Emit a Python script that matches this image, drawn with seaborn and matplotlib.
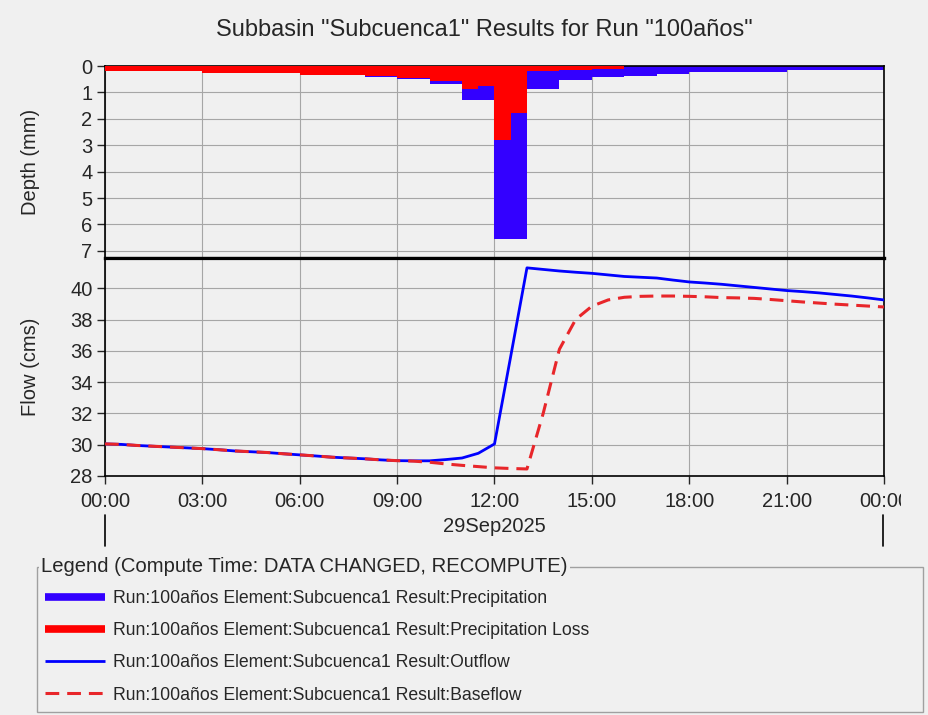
import numpy as np
import pandas as pd
import matplotlib
matplotlib.use('Agg')
import matplotlib.pyplot as plt
import seaborn as sns
from matplotlib.lines import Line2D
from matplotlib.patches import Rectangle
from matplotlib.transforms import Bbox, TransformedBbox

# hyetograph: 30 min blocks, start hour of each block
block_start = [h / 2 for h in range(48)]
precipitation = [0.19, 0.19, 0.19, 0.19, 0.19, 0.19,
                 0.25, 0.25, 0.25, 0.25, 0.25, 0.25,
                 0.33, 0.33, 0.33, 0.33, 0.40, 0.40,
                 0.51, 0.51, 0.67, 0.67, 1.29, 1.29,
                 6.56, 6.56, 0.87, 0.87, 0.54, 0.54,
                 0.42, 0.42, 0.37, 0.37, 0.30, 0.30,
                 0.22, 0.22, 0.22, 0.22, 0.22, 0.22,
                 0.15, 0.15, 0.15, 0.15, 0.15, 0.15]
precip_loss = [0.19, 0.19, 0.19, 0.19, 0.19, 0.19,
               0.25, 0.25, 0.25, 0.25, 0.25, 0.25,
               0.33, 0.33, 0.33, 0.33, 0.39, 0.39,
               0.45, 0.45, 0.58, 0.58, 0.87, 0.77,
               2.82, 1.78, 0.20, 0.20, 0.15, 0.15,
               0.12, 0.12, 0.0, 0.0, 0.0, 0.0,
               0.0, 0.0, 0.0, 0.0, 0.0, 0.0,
               0.0, 0.0, 0.0, 0.0, 0.0, 0.0]

# hydrograph, every 30 min from 00:00 to 00:00 next day
flow_time = [h / 2 for h in range(49)]
outflow = [30.05, 30.02, 29.95, 29.90, 29.85, 29.80, 29.75, 29.68, 29.60, 29.55,
           29.50, 29.42, 29.35, 29.28, 29.20, 29.15, 29.10, 29.03, 28.98, 28.97,
           28.97, 29.05, 29.15, 29.45, 30.05, 35.65, 41.30, 41.20, 41.10, 41.02,
           40.95, 40.85, 40.75, 40.70, 40.65, 40.52, 40.40, 40.33, 40.25, 40.15,
           40.05, 39.95, 39.85, 39.78, 39.70, 39.60, 39.50, 39.38, 39.25]
baseflow = [30.05, 30.02, 29.95, 29.90, 29.85, 29.80, 29.75, 29.68, 29.60, 29.55,
            29.50, 29.42, 29.35, 29.28, 29.20, 29.15, 29.10, 29.03, 28.98, 28.95,
            28.88, 28.77, 28.68, 28.60, 28.52, 28.48, 28.45, 32.00, 36.10, 38.00,
            38.85, 39.25, 39.42, 39.48, 39.50, 39.50, 39.48, 39.45, 39.40, 39.38,
            39.35, 39.28, 39.20, 39.12, 39.05, 38.98, 38.92, 38.86, 38.80]

hour_ticks = [0, 3, 6, 9, 12, 15, 18, 21, 24]
hour_labels = ['00:00', '03:00', '06:00', '09:00', '12:00', '15:00', '18:00', '21:00', '00:00']
depth_ticks = [0, 1, 2, 3, 4, 5, 6, 7]
flow_ticks = [28, 30, 32, 34, 36, 38, 40]

legend_labels = ['Run:100años Element:Subcuenca1 Result:Precipitation',
                 'Run:100años Element:Subcuenca1 Result:Precipitation Loss',
                 'Run:100años Element:Subcuenca1 Result:Outflow',
                 'Run:100años Element:Subcuenca1 Result:Baseflow']

bg = '#f0f0f0'
sns.set_style('ticks', {'axes.facecolor': bg, 'figure.facecolor': bg,
                        'axes.edgecolor': 'black', 'grid.color': '#a6a6a6'})
plt.rcParams['font.family'] = ['Liberation Sans', 'DejaVu Sans']

W, H = 929, 715
fig = plt.figure(figsize=(W / 100, H / 100), dpi=100)
fig.patch.set_facecolor(bg)

def fx(px):
    return px / W

def fy(py):
    return 1 - py / H

ax_top = fig.add_axes([fx(105), fy(258), fx(884) - fx(105), fy(66) - fy(258)])
ax_bot = fig.add_axes([fx(105), fy(476), fx(884) - fx(105), fy(258) - fy(476)])

# depth panel
ax_top.bar(block_start, precipitation, width=0.5, align='edge', color='#3300ff', linewidth=0, zorder=2)
ax_top.bar(block_start, precip_loss, width=0.5, align='edge', color='#ff0000', linewidth=0, zorder=3)
ax_top.set_ylim(7.27, 0)
ax_top.set_xlim(0, 24)
ax_top.set_yticks(depth_ticks)
ax_top.set_xticks(hour_ticks)
ax_top.tick_params(axis='x', length=0, labelbottom=False)
ax_top.set_ylabel('Depth (mm)', fontsize=14.5)

# flow panel
df = pd.DataFrame({'time': flow_time, 'Outflow': outflow, 'Baseflow': baseflow})
sns.lineplot(data=df, x='time', y='Outflow', ax=ax_bot, color='#0000ff', lw=2.0, zorder=3)
sns.lineplot(data=df, x='time', y='Baseflow', ax=ax_bot, color='#e8262a', lw=2.2,
             dashes=False, zorder=4)
ax_bot.lines[1].set_dashes((4.5, 2.6))
ax_bot.set_xlim(0, 24)
ax_bot.set_ylim(28, 41.93)
ax_bot.set_yticks(flow_ticks)
ax_bot.set_xticks(hour_ticks)
ax_bot.set_xticklabels(hour_labels)
ax_bot.set_xlabel('')
ax_bot.set_ylabel('Flow (cms)', fontsize=14.5)

for ax in (ax_top, ax_bot):
    ax.grid(True, color='#a6a6a6', lw=0.8, zorder=0)
    ax.set_axisbelow(True)
    for s in ax.spines.values():
        s.set_color('black')
        s.set_linewidth(1.2)
    ax.tick_params(axis='y', length=6, width=1, pad=3, labelsize=14.5)
    ax.yaxis.set_label_coords(-0.083, 0.5)
ax_bot.tick_params(axis='x', length=6, width=1, pad=5.5, labelsize=14.5)
ax_top.spines['bottom'].set_linewidth(2.3)
ax_bot.spines['top'].set_linewidth(2.3)

# last tick label is cut by the chart panel edge
clip = TransformedBbox(Bbox([[0, 0], [fx(901), 1]]), fig.transFigure)
lab = ax_bot.get_xticklabels()[-1]
lab.set_clip_box(clip)
lab.set_clip_on(True)

fig.text(fx(484), fy(30), 'Subbasin "Subcuenca1" Results for Run "100años"',
         ha='center', va='center', fontsize=17)
fig.text(fx(494), fy(527), '29Sep2025', ha='center', va='center', fontsize=14.5)
for px in (105, 883):
    fig.add_artist(Line2D([fx(px), fx(px)], [fy(515), fy(546)], color='black', lw=1.2))

# legend box
fig.add_artist(Rectangle((fx(37), fy(712)), fx(923) - fx(37), fy(567) - fy(712),
                         fill=False, edgecolor='#a0a0a0', lw=1))
fig.text(fx(41), fy(567), 'Legend (Compute Time: DATA CHANGED, RECOMPUTE)',
         ha='left', va='center', fontsize=14.6,
         bbox=dict(facecolor=bg, edgecolor='none', pad=1.5))
handles = [Line2D([], [], color='#3300ff', lw=5.5, solid_capstyle='butt'),
           Line2D([], [], color='#ff0000', lw=5.5, solid_capstyle='butt'),
           Line2D([], [], color='#0000ff', lw=2.0, solid_capstyle='butt'),
           Line2D([], [], color='#e8262a', lw=2.2, dashes=(4.5, 2.6))]
fig.legend(handles, legend_labels, loc='upper left', bbox_to_anchor=(fx(45), fy(590)),
           frameon=False, fontsize=12.7, borderpad=0, borderaxespad=0,
           handlelength=3.4, handletextpad=0.45, labelspacing=0.86)

fig.savefig('out.png', dpi=100, facecolor=bg)
